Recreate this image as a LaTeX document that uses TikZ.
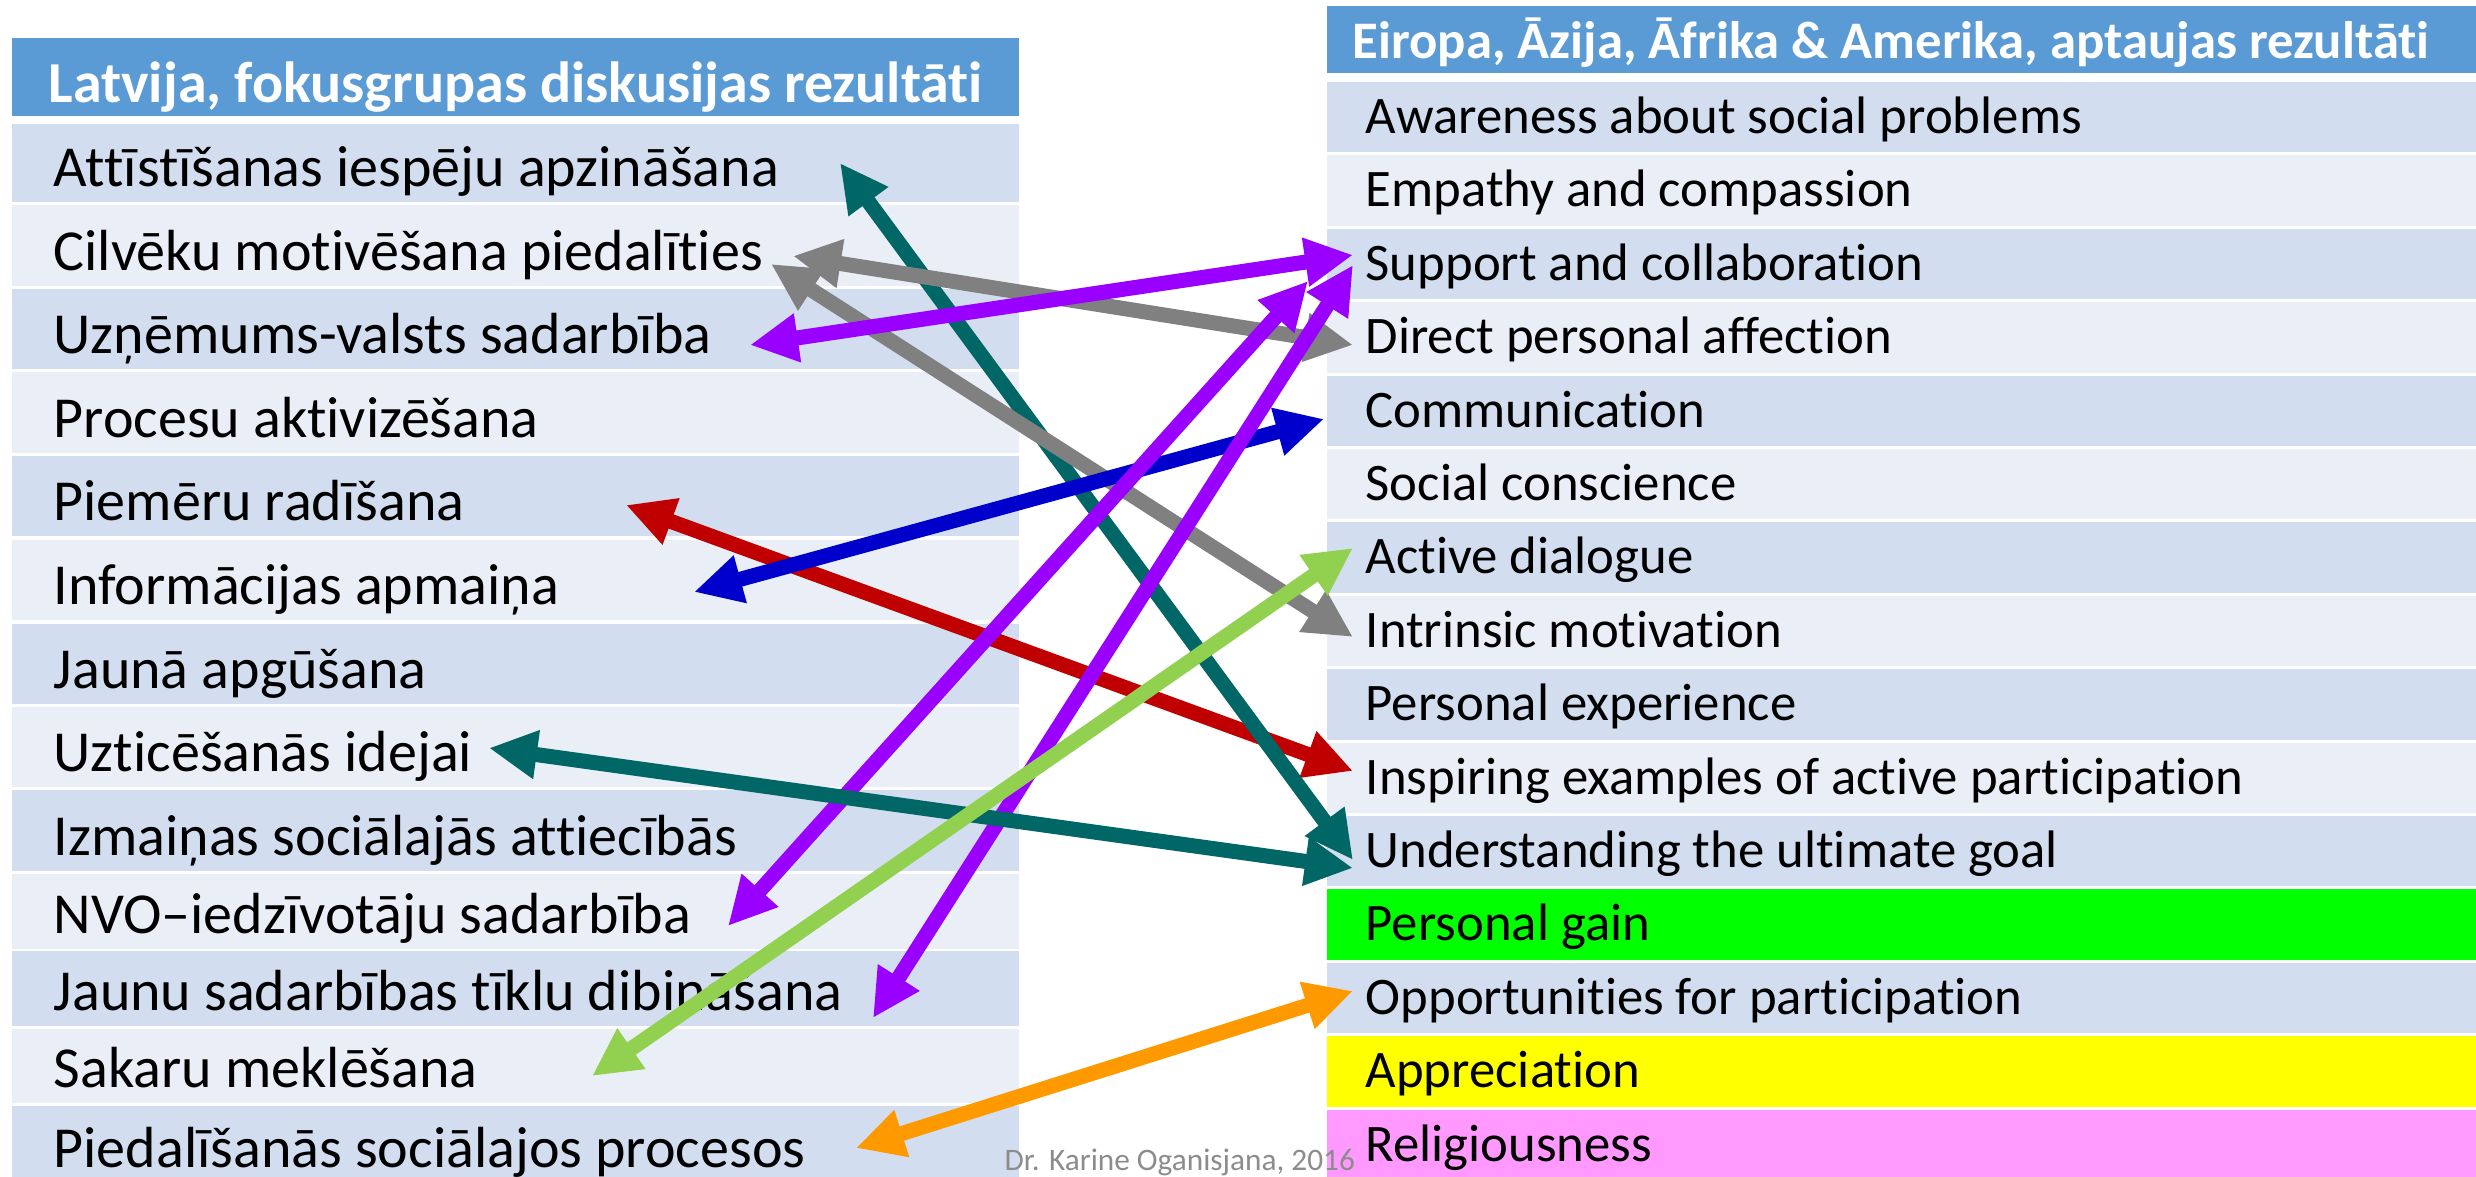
\documentclass[tikz,border=0pt]{standalone}
\usepackage{fontspec}
\setmainfont{Carlito}[Ligatures=NoCommon]
\usepackage{tikz}
\usetikzlibrary{arrows.meta}
\definecolor{hdrblue}{HTML}{5B9BD5}
\definecolor{bandA}{HTML}{D2DEEF}
\definecolor{bandB}{HTML}{EAEFF7}
\definecolor{gainGreen}{HTML}{00FF00}
\definecolor{apprYellow}{HTML}{FFFF00}
\definecolor{religPink}{HTML}{FF99FF}
\definecolor{arrTeal}{HTML}{006666}
\definecolor{arrGray}{HTML}{808080}
\definecolor{arrPurple}{HTML}{9900FF}
\definecolor{arrBlue}{HTML}{0000CC}
\definecolor{arrRed}{HTML}{C00000}
\definecolor{arrGreen}{HTML}{92D050}
\definecolor{arrOrange}{HTML}{FF9900}
\definecolor{footGray}{HTML}{8C8C8C}

\begin{document}
\begin{tikzpicture}[x=0.01cm,y=-0.01cm,
  leftfont/.style={font=\fontsize{16.5}{20}\selectfont},
  rightfont/.style={font=\fontsize{15}{18}\selectfont},
  arr/.style={line width=0.15cm,{Triangle[length=0.48cm,width=0.46cm]}-{Triangle[length=0.48cm,width=0.46cm]}}]
\useasboundingbox[fill=white] (0,0) rectangle (2476,1177);

% Latvija
\fill[hdrblue] (12,38) rectangle (1019,116);
\node[leftfont,anchor=base west,inner sep=0,text=white] (lhead) at (48,103) {\bfseries Latvija, fokusgrupas diskusijas rezultāti};
\foreach \t/\b/\c/\s [count=\i] in {
  124/202/bandA/Attīstīšanas iespēju apzināšana,
  205/286/bandB/Cilvēku motivēšana piedalīties,
  289/369/bandA/Uzņēmums-valsts sadarbība,
  372/453/bandB/Procesu aktivizēšana,
  456/536/bandA/Piemēru radīšana,
  540/620/bandB/Informācijas apmaiņa,
  624/704/bandA/Jaunā apgūšana,
  707/787/bandB/Uzticēšanās idejai,
  790/871/bandA/Izmaiņas sociālajās attiecībās,
  874/949/bandB/NVO–iedzīvotāju sadarbība,
  951/1026/bandA/Jaunu sadarbības tīklu dibināšana,
  1029/1103/bandB/Sakaru meklēšana,
  1106/1182/bandA/Piedalīšanās sociālajos procesos}
{
  \fill[\c] (12,\t) rectangle (1019,\b);
  \node[leftfont,anchor=base west,inner sep=0] (lt\i) at (53,\b-15) {\s};
}

% Eiropa, Azija, Afrika, Amerika
\fill[hdrblue] (1327,6) rectangle (2476,73);
\node[rightfont,anchor=base west,inner sep=0,text=white] (rhead) at (1352,59) {\bfseries Eiropa, Āzija, Āfrika \& Amerika, aptaujas rezultāti};
\foreach \c/\s [count=\i] in {
  bandA/Awareness about social problems,
  bandB/Empathy and compassion,
  bandA/Support and collaboration,
  bandB/Direct personal affection,
  bandA/Communication,
  bandB/Social conscience,
  bandA/Active dialogue,
  bandB/Intrinsic motivation,
  bandA/Personal experience,
  bandB/Inspiring examples of active participation,
  bandA/Understanding the ultimate goal,
  gainGreen/Personal gain,
  bandA/Opportunities for participation,
  apprYellow/Appreciation,
  religPink/Religiousness}
{
  \pgfmathsetmacro\t{82+73.4*(\i-1)}
  \fill[\c] (1327,\t) rectangle (2476,\t+70.5);
  \node[rightfont,anchor=base west,inner sep=0] (rt\i) at (1365,\t+51.5) {\s};
}

% arrow ends
\coordinate (pL1) at (840,163);
\coordinate (pL2a) at (793,256);
\coordinate (pL2b) at (771,264);
\coordinate (pL3) at (750,345);
\coordinate (pL5) at (626,505);
\coordinate (pL6) at (694,592);
\coordinate (pL8) at (489,748);
\coordinate (pL10) at (728,926);
\coordinate (pL11) at (873,1018);
\coordinate (pL12) at (592,1076);
\coordinate (pL13) at (856,1148);
\coordinate (pR3a) at (1353,255);
\coordinate (pR3b) at (1308,281);
\coordinate (pR3c) at (1353,265);
\coordinate (pR4) at (1353,345);
\coordinate (pR5) at (1324,419);
\coordinate (pR7) at (1353,548);
\coordinate (pR8) at (1353,637);
\coordinate (pR10) at (1353,771);
\coordinate (pR11a) at (1353,860);
\coordinate (pR11b) at (1353,868);
\coordinate (pR13) at (1353,991);

\draw[arr,arrRed] (pL5) -- (pR10);
\draw[arr,arrTeal] (pL1) -- (pR11a);
\draw[arr,arrGray] (pL2a) -- (pR4);
\draw[arr,arrGray] (pL2b) -- (pR8);
\draw[arr,arrPurple] (pL3) -- (pR3a);
\draw[arr,arrBlue] (pL6) -- (pR5);
\draw[arr,arrPurple] (pL10) -- (pR3b);
\draw[arr,arrPurple] (pL11) -- (pR3c);
\draw[arr,arrTeal] (pL8) -- (pR11b);
\draw[arr,arrGreen] (pL12) -- (pR7);
\draw[arr,arrOrange] (pL13) -- (pR13);

\node[anchor=base west,inner sep=0,text=footGray,font=\fontsize{8.9}{10}\selectfont] (credit) at (1004,1170) {Dr. Karine Oganisjana, 2016};
\end{tikzpicture}
\end{document}
